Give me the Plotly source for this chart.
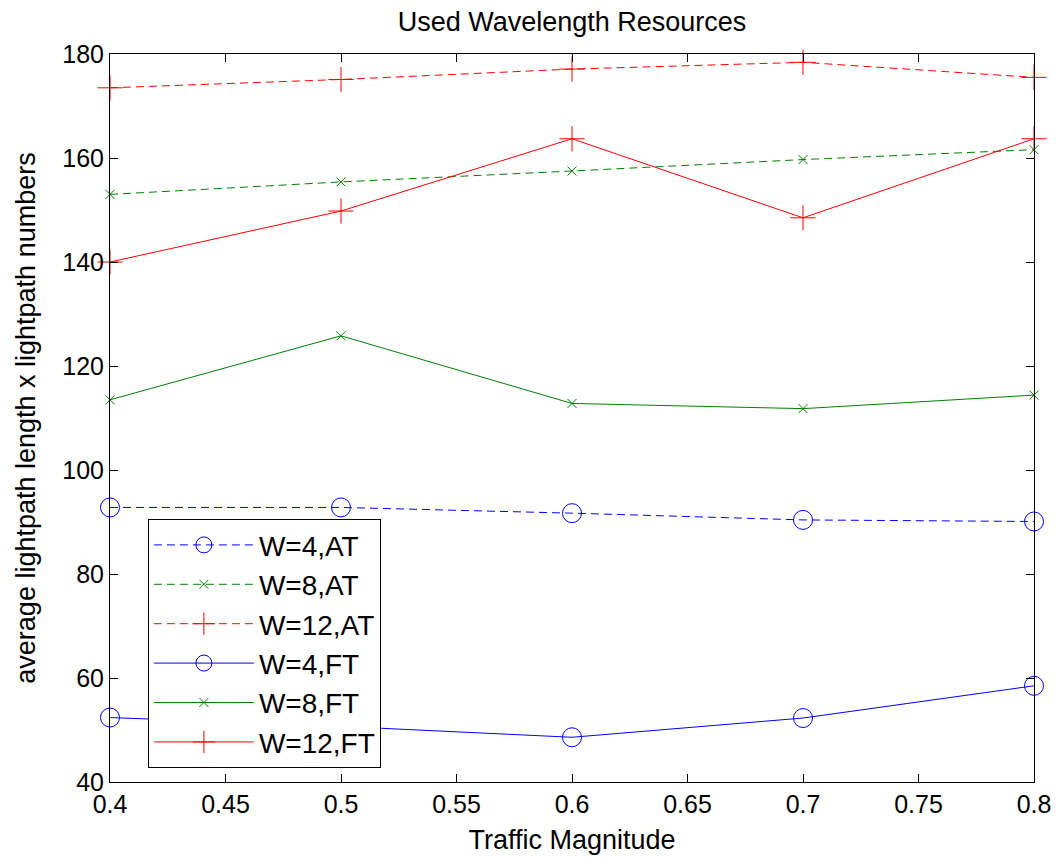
import plotly.graph_objects as go

traffic = [0.4, 0.5, 0.6, 0.7, 0.8]

w4_at = [92.8, 92.8, 91.7, 90.4, 90.1]
w8_at = [153.0, 155.4, 157.5, 159.7, 161.6]
w12_at = [173.5, 175.1, 177.1, 178.4, 175.5]
w4_ft = [52.4, 50.7, 48.6, 52.3, 58.5]
w8_ft = [113.5, 125.8, 112.8, 111.8, 114.4]
w12_ft = [140.0, 149.8, 163.7, 148.5, 163.7]

x_ticks = [0.4, 0.45, 0.5, 0.55, 0.6, 0.65, 0.7, 0.75, 0.8]
x_ticklabels = ["0.4", "0.45", "0.5", "0.55", "0.6", "0.65", "0.7", "0.75", "0.8"]
y_ticks = [40, 60, 80, 100, 120, 140, 160, 180]

BLUE = "#0000FF"
GREEN = "#008000"
RED = "#FF0000"
FONT = "Liberation Sans, Arial, sans-serif"

series = [
    ("W=4,AT", w4_at, BLUE, "8px,5px", "circle-open", 19),
    ("W=8,AT", w8_at, GREEN, "8px,5px", "x-thin-open", 9),
    ("W=12,AT", w12_at, RED, "8px,5px", "cross-thin-open", 18),
    ("W=4,FT", w4_ft, BLUE, "solid", "circle-open", 19),
    ("W=8,FT", w8_ft, GREEN, "solid", "x-thin-open", 9),
    ("W=12,FT", w12_ft, RED, "solid", "cross-thin-open", 18),
]

fig = go.Figure()
for name, vals, color, dash, sym, size in series:
    fig.add_trace(go.Scatter(
        x=traffic, y=vals, name=name, mode="lines+markers",
        line=dict(color=color, width=1, dash=dash),
        marker=dict(symbol=sym, size=size, color=color,
                    line=dict(color=color, width=1)),
        cliponaxis=False,
    ))

axis_common = dict(
    showline=True, linecolor="black", linewidth=1, mirror="ticks",
    ticks="inside", ticklen=8, tickcolor="black", tickwidth=1,
    showgrid=False, zeroline=False,
    tickfont=dict(family=FONT, size=25, color="black"),
)

fig.update_layout(
    width=1059, height=859,
    margin=dict(l=102, r=33, t=46, b=85),
    paper_bgcolor="white", plot_bgcolor="white",
    title=dict(text="Used Wavelength Resources", x=0.5, xref="paper", xanchor="center",
               y=0.995, yref="container", yanchor="top", pad=dict(t=0, b=0),
               font=dict(family=FONT, size=27, color="black")),
    xaxis=dict(range=[0.4, 0.8], tickvals=x_ticks, ticktext=x_ticklabels,
               title=dict(text="Traffic Magnitude", standoff=13,
                          font=dict(family=FONT, size=27, color="black")),
               **axis_common),
    yaxis=dict(range=[40, 180], tickvals=y_ticks,
               title=dict(text="average lightpath length x lightpath numbers", standoff=18,
                          font=dict(family=FONT, size=27, color="black")),
               **axis_common),
    legend=dict(x=0.041, y=0.361, xanchor="left", yanchor="top",
                bordercolor="black", borderwidth=1, bgcolor="white",
                font=dict(family=FONT, size=28, color="black"),
                tracegroupgap=0, itemwidth=100),
    showlegend=True,
)

fig.write_html("out.html")
